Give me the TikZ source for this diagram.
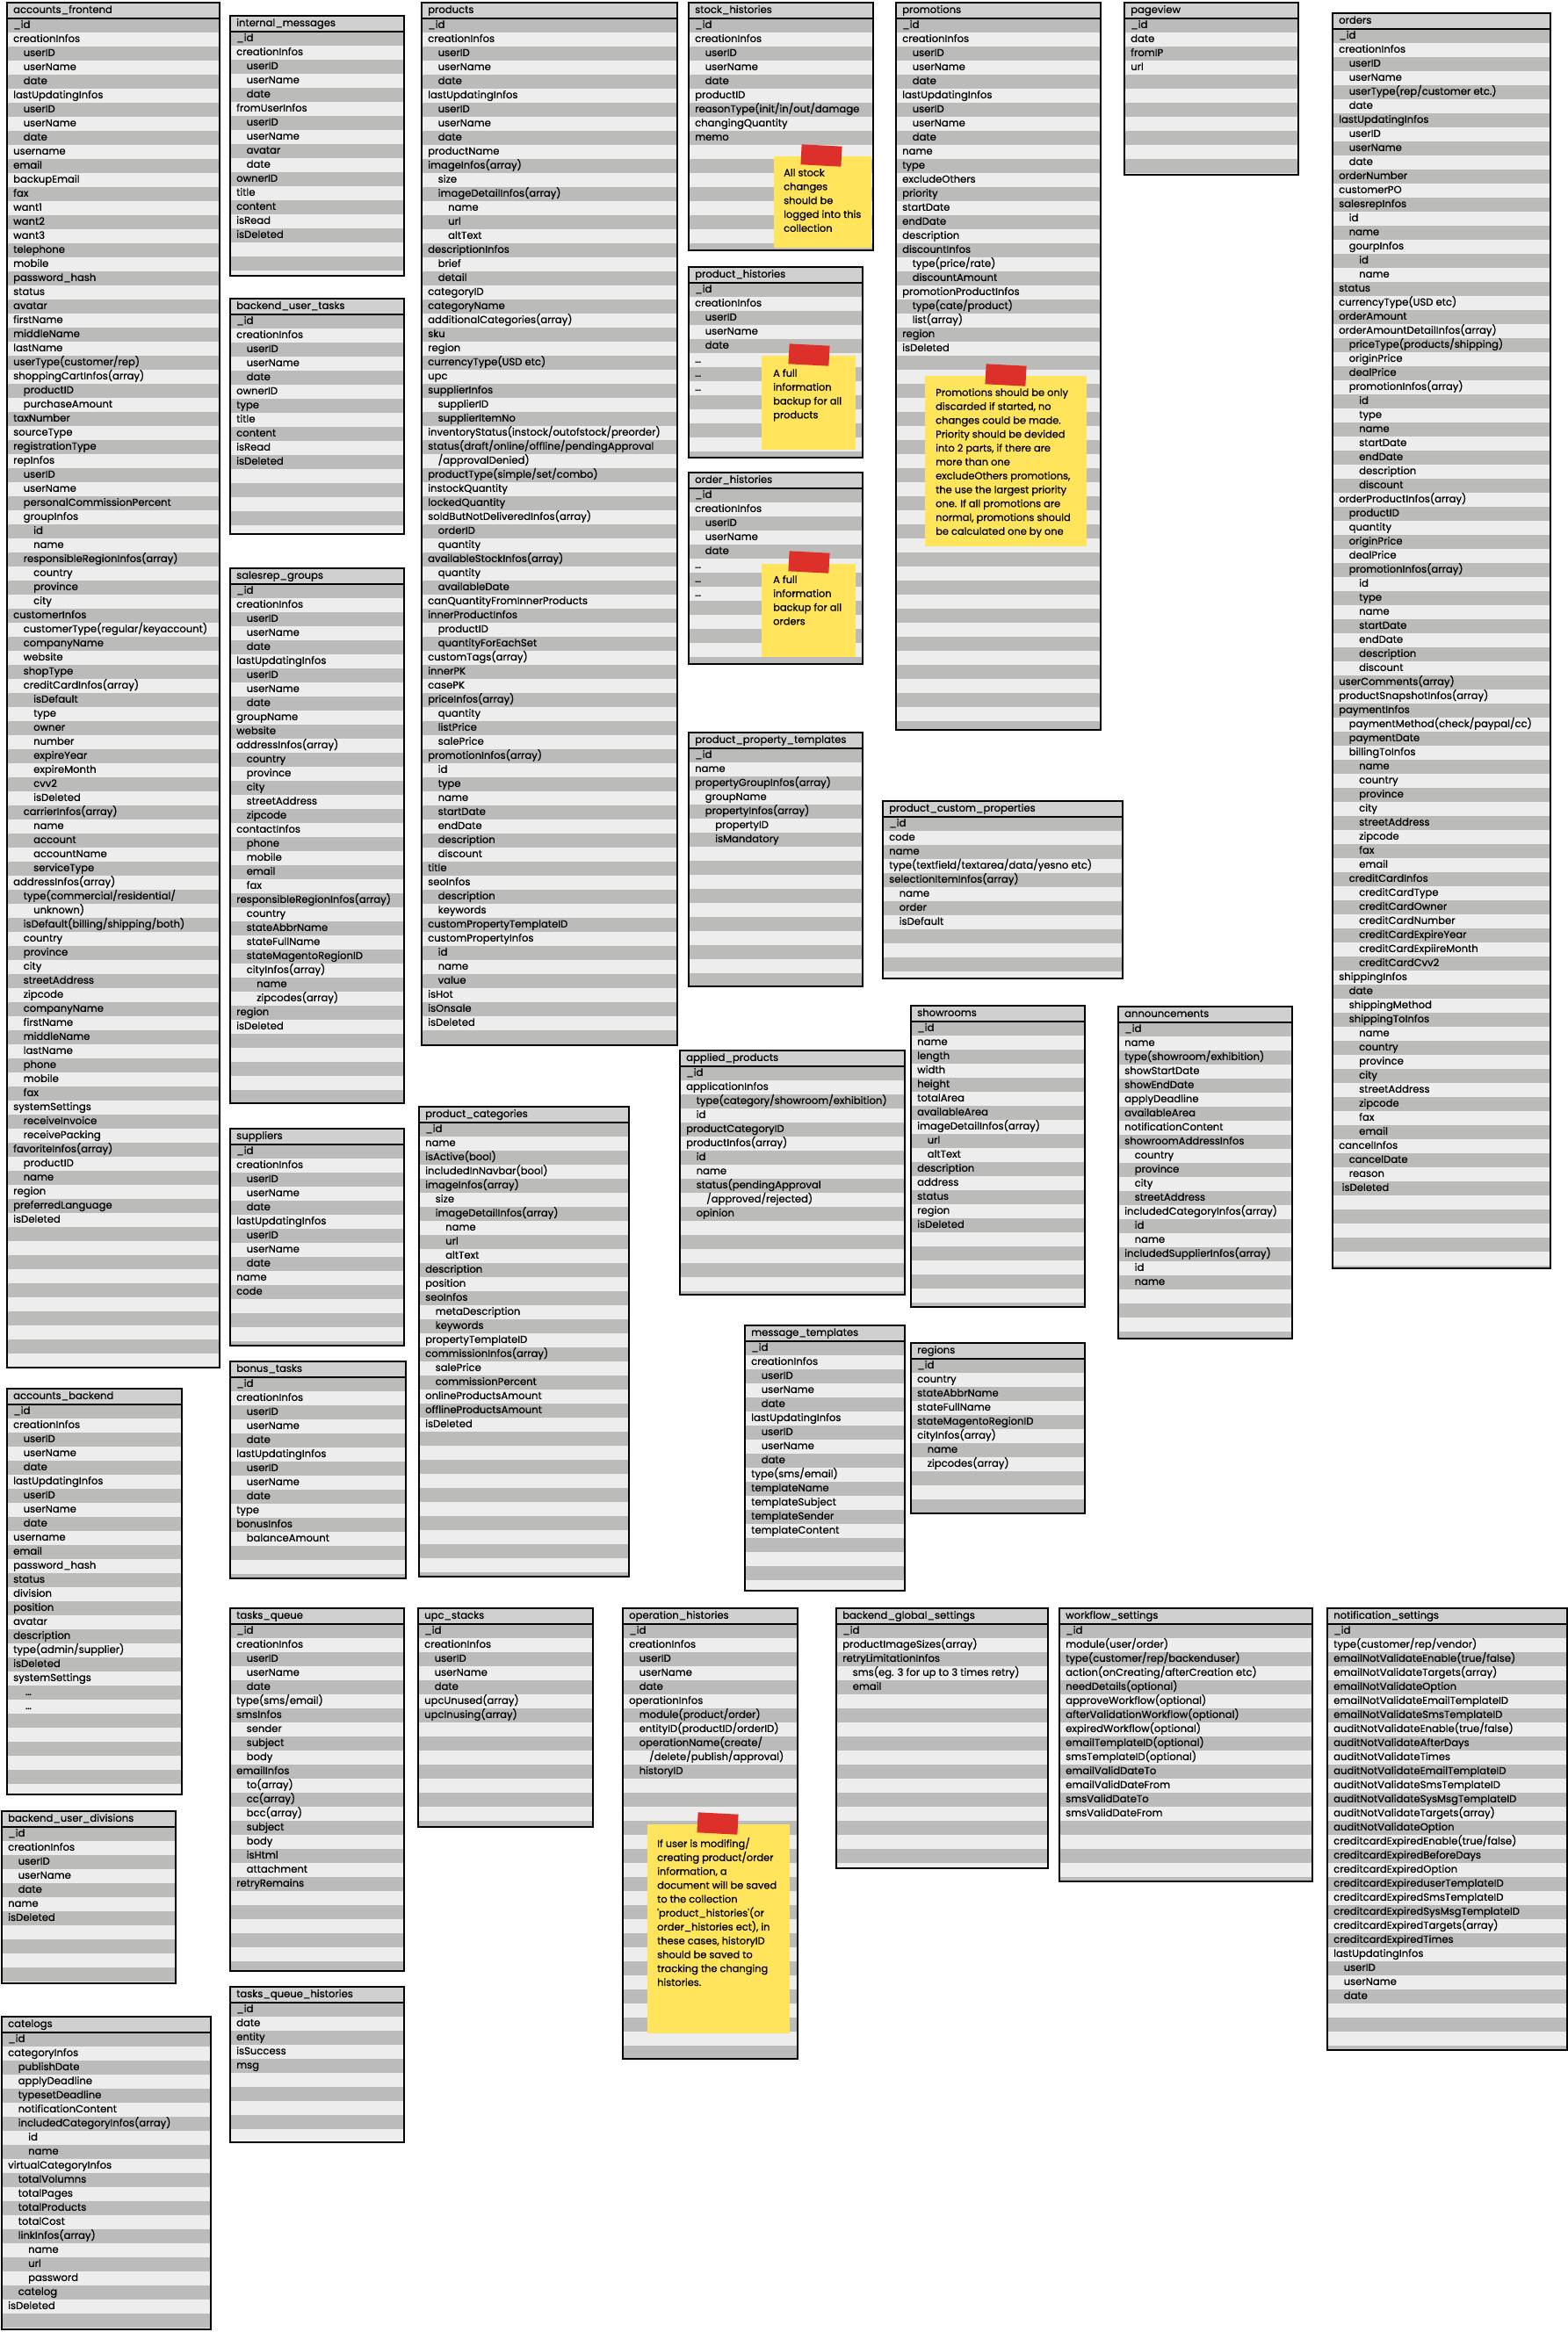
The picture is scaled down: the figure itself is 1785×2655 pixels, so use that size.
\documentclass[tikz,border=0pt]{standalone}
\usepackage{fontspec}
\setmainfont{Poppins}[FakeBold=0.7]
\definecolor{rowdark}{RGB}{187,188,185}
\definecolor{rowlight}{RGB}{237,237,237}
\definecolor{headfill}{RGB}{208,208,208}
\definecolor{noteyellow}{RGB}{255,228,92}
\definecolor{tapered}{RGB}{222,48,42}

\newcommand\dbtable[7]{%
  \begin{scope}
    \clip (#2,#3) rectangle (#4,#5);
    \fill[rowlight] (#2,#3) rectangle (#4,#5);
    \pgfmathtruncatemacro\nstripes{(#5-#3-18)/32}
    \foreach \k in {0,...,\nstripes}
      \fill[rowdark] (#2,{#3+18+32*\k}) rectangle (#4,{#3+34+32*\k});
  \end{scope}
  \fill[headfill] (#2,#3) rectangle (#4,{#3+18});
  \draw[headline] (#2,{#3+18}) -- (#4,{#3+18});
  \node[tablebox, minimum width={#4-#2}, minimum height={#5-#3}] (#1) at (#2,#3) {};
  \node[headtext] (#1-head) at ({#2+7},{#3+9}) {#6};
  \foreach \lvl/\txt [count=\i] in {#7}
    \node[fieldtext] (#1-\i) at ({#2+7+11.5*\lvl},{#3+10+16*\i}) {\txt};
}

\begin{document}
\begin{tikzpicture}[x=1pt,y=-1pt]
  \tikzset{
    tablebox/.style={
      draw=black,
      line width=2.4pt,
      inner sep=0pt,
      outer sep=0pt,
      anchor=north west
    },
    headline/.style={line width=1.8pt},
    headtext/.style={
      anchor=west,
      inner sep=0pt,
      text height=8pt,
      text depth=2.2pt,
      font=\fontsize{11.6}{14}\selectfont
    },
    fieldtext/.style={headtext},
    notebox/.style={
      fill=noteyellow,
      inner sep=0pt,
      anchor=north west
    },
    tape/.style={
      fill=tapered,
      inner sep=0pt,
      minimum width=46,
      minimum height=23,
      rotate=-3
    },
    notetext/.style={
      anchor=north west,
      inner sep=0pt,
      align=left,
      font=\fontsize{11.4}{15.8}\selectfont
    }
  }

  \useasboundingbox (0,0) rectangle (1785,2655);
  \fill[white] (0,0) rectangle (1785,2655);

  \dbtable{accfront}{8}{3}{250}{1557}{accounts\_frontend}{0/\_id, 0/creationInfos, 1/userID, 1/userName, 1/date, 0/lastUpdatingInfos, 1/userID, 1/userName, 1/date, 0/username, 0/email, 0/backupEmail, 0/fax, 0/want1, 0/want2, 0/want3, 0/telephone, 0/mobile, 0/password\_hash, 0/status, 0/avatar, 0/firstName, 0/middleName, 0/lastName, 0/{userType(customer/rep)}, 0/shoppingCartInfos(array), 1/productID, 1/purchaseAmount, 0/taxNumber, 0/sourceType, 0/registrationType, 0/repInfos, 1/userID, 1/userName, 1/personalCommissionPercent, 1/groupInfos, 2/id, 2/name, 1/responsibleRegionInfos(array), 2/country, 2/province, 2/city, 0/customerInfos, 1/{customerType(regular/keyaccount)}, 1/companyName, 1/website, 1/shopType, 1/creditCardInfos(array), 2/isDefault, 2/type, 2/owner, 2/number, 2/expireYear, 2/expireMonth, 2/cvv2, 2/isDeleted, 1/carrierInfos(array), 2/name, 2/account, 2/accountName, 2/serviceType, 0/addressInfos(array), 1/{type(commercial/residential/}, 2/unknown), 1/{isDefault(billing/shipping/both)}, 1/country, 1/province, 1/city, 1/streetAddress, 1/zipcode, 1/companyName, 1/firstName, 1/middleName, 1/lastName, 1/phone, 1/mobile, 1/fax, 0/systemSettings, 1/receiveInvoice, 1/receivePacking, 0/favoriteInfos(array), 1/productID, 1/name, 0/region, 0/preferredLanguage, 0/isDeleted}

  \dbtable{intmsg}{262}{18}{460}{314}{internal\_messages}{0/\_id, 0/creationInfos, 1/userID, 1/userName, 1/date, 0/fromUserInfos, 1/userID, 1/userName, 1/avatar, 1/date, 0/ownerID, 0/title, 0/content, 0/isRead, 0/isDeleted}

  \dbtable{butasks}{262}{340}{460}{608}{backend\_user\_tasks}{0/\_id, 0/creationInfos, 1/userID, 1/userName, 1/date, 0/ownerID, 0/type, 0/title, 0/content, 0/isRead, 0/isDeleted}

  \dbtable{srgroups}{262}{647}{460}{1256}{salesrep\_groups}{0/\_id, 0/creationInfos, 1/userID, 1/userName, 1/date, 0/lastUpdatingInfos, 1/userID, 1/userName, 1/date, 0/groupName, 0/website, 0/addressInfos(array), 1/country, 1/province, 1/city, 1/streetAddress, 1/zipcode, 0/contactInfos, 1/phone, 1/mobile, 1/email, 1/fax, 0/responsibleRegionInfos(array), 1/country, 1/stateAbbrName, 1/stateFullName, 1/stateMagentoRegionID, 1/cityInfos(array), 2/name, 2/zipcodes(array), 0/region, 0/isDeleted}

  \dbtable{products}{480}{3}{771}{1190}{products}{0/\_id, 0/creationInfos, 1/userID, 1/userName, 1/date, 0/lastUpdatingInfos, 1/userID, 1/userName, 1/date, 0/productName, 0/imageInfos(array), 1/size, 1/imageDetailInfos(array), 2/name, 2/url, 2/altText, 0/descriptionInfos, 1/brief, 1/detail, 0/categoryID, 0/categoryName, 0/additionalCategories(array), 0/sku, 0/region, 0/currencyType(USD etc), 0/upc, 0/supplierInfos, 1/supplierID, 1/supplierItemNo, 0/{inventoryStatus(instock/outofstock/preorder)}, 0/{status(draft/online/offline/pendingApproval}, 1/{/approvalDenied)}, 0/{productType(simple/set/combo)}, 0/instockQuantity, 0/lockedQuantity, 0/soldButNotDeliveredInfos(array), 1/orderID, 1/quantity, 0/availableStockInfos(array), 1/quantity, 1/availableDate, 0/canQuantityFromInnerProducts, 0/innerProductInfos, 1/productID, 1/quantityForEachSet, 0/customTags(array), 0/innerPK, 0/casePK, 0/priceInfos(array), 1/quantity, 1/listPrice, 1/salePrice, 0/promotionInfos(array), 1/id, 1/type, 1/name, 1/startDate, 1/endDate, 1/description, 1/discount, 0/title, 0/seoInfos, 1/description, 1/keywords, 0/customPropertyTemplateID, 0/customPropertyInfos, 1/id, 1/name, 1/value, 0/isHot, 0/isOnsale, 0/isDeleted}

  \dbtable{stockhist}{784}{3}{994}{285}{stock\_histories}{0/\_id, 0/creationInfos, 1/userID, 1/userName, 1/date, 0/productID, 0/{reasonType(init/in/out/damage}, 0/changingQuantity, 0/memo}

  \dbtable{prodhist}{784}{304}{982}{521}{product\_histories}{0/\_id, 0/creationInfos, 1/userID, 1/userName, 1/date, 0/\dots, 0/\dots, 0/\dots}

  \dbtable{orderhist}{784}{538}{982}{756}{order\_histories}{0/\_id, 0/creationInfos, 1/userID, 1/userName, 1/date, 0/\dots, 0/\dots, 0/\dots}

  \dbtable{promotions}{1020}{3}{1253}{831}{promotions}{0/\_id, 0/creationInfos, 1/userID, 1/userName, 1/date, 0/lastUpdatingInfos, 1/userID, 1/userName, 1/date, 0/name, 0/type, 0/excludeOthers, 0/priority, 0/startDate, 0/endDate, 0/description, 0/discountInfos, 1/{type(price/rate)}, 1/discountAmount, 0/promotionProductInfos, 1/{type(cate/product)}, 1/list(array), 0/region, 0/isDeleted}

  \dbtable{pptemplates}{784}{834}{982}{1123}{product\_property\_templates}{0/\_id, 0/name, 0/propertyGroupInfos(array), 1/groupName, 1/propertyInfos(array), 2/propertyID, 2/isMandatory}

  \dbtable{pageview}{1280}{3}{1478}{199}{pageview}{0/\_id, 0/date, 0/fromIP, 0/url}

  \dbtable{orders}{1517}{15}{1765}{1444}{orders}{0/\_id, 0/creationInfos, 1/userID, 1/userName, 1/{userType(rep/customer etc.)}, 1/date, 0/lastUpdatingInfos, 1/userID, 1/userName, 1/date, 0/orderNumber, 0/customerPO, 0/salesrepInfos, 1/id, 1/name, 1/gourpInfos, 2/id, 2/name, 0/status, 0/currencyType(USD etc), 0/orderAmount, 0/orderAmountDetailInfos(array), 1/{priceType(products/shipping)}, 1/originPrice, 1/dealPrice, 1/promotionInfos(array), 2/id, 2/type, 2/name, 2/startDate, 2/endDate, 2/description, 2/discount, 0/orderProductInfos(array), 1/productID, 1/quantity, 1/originPrice, 1/dealPrice, 1/promotionInfos(array), 2/id, 2/type, 2/name, 2/startDate, 2/endDate, 2/description, 2/discount, 0/userComments(array), 0/productSnapshotInfos(array), 0/paymentInfos, 1/{paymentMethod(check/paypal/cc)}, 1/paymentDate, 1/billingToInfos, 2/name, 2/country, 2/province, 2/city, 2/streetAddress, 2/zipcode, 2/fax, 2/email, 1/creditCardInfos, 2/creditCardType, 2/creditCardOwner, 2/creditCardNumber, 2/creditCardExpireYear, 2/creditCardExpiireMonth, 2/creditCardCvv2, 0/shippingInfos, 1/date, 1/shippingMethod, 1/shippingToInfos, 2/name, 2/country, 2/province, 2/city, 2/streetAddress, 2/zipcode, 2/fax, 2/email, 0/cancelInfos, 1/cancelDate, 1/reason, 0.3/isDeleted}

  \dbtable{suppliers}{262}{1285}{460}{1532}{suppliers}{0/\_id, 0/creationInfos, 1/userID, 1/userName, 1/date, 0/lastUpdatingInfos, 1/userID, 1/userName, 1/date, 0/name, 0/code}

  \dbtable{bonustasks}{262}{1550}{462}{1797}{bonus\_tasks}{0/\_id, 0/creationInfos, 1/userID, 1/userName, 1/date, 0/lastUpdatingInfos, 1/userID, 1/userName, 1/date, 0/type, 0/bonusInfos, 1/balanceAmount}

  \dbtable{prodcats}{477}{1260}{716}{1795}{product\_categories}{0/\_id, 0/name, 0/isActive(bool), 0/includedInNavbar(bool), 0/imageInfos(array), 1/size, 1/imageDetailInfos(array), 2/name, 2/url, 2/altText, 0/description, 0/position, 0/seoInfos, 1/metaDescription, 1/keywords, 0/propertyTemplateID, 0/commissionInfos(array), 1/salePrice, 1/commissionPercent, 0/onlineProductsAmount, 0/offlineProductsAmount, 0/isDeleted}

  \dbtable{accback}{8}{1581}{207}{2043}{accounts\_backend}{0/\_id, 0/creationInfos, 1/userID, 1/userName, 1/date, 0/lastUpdatingInfos, 1/userID, 1/userName, 1/date, 0/username, 0/email, 0/password\_hash, 0/status, 0/division, 0/position, 0/avatar, 0/description, 0/{type(admin/supplier)}, 0/isDeleted, 0/systemSettings, 1.2/\dots, 1.2/\dots}

  \dbtable{pcprops}{1005}{912}{1278}{1114}{product\_custom\_properties}{0/\_id, 0/code, 0/name, 0/{type(textfield/textarea/data/yesno etc)}, 0/selectionItemInfos(array), 1/name, 1/order, 1/isDefault}

  \dbtable{appliedprod}{774}{1196}{1030}{1474}{applied\_products}{0/\_id, 0/applicationInfos, 1/{type(category/showroom/exhibition)}, 1/id, 0/productCategoryID, 0/productInfos(array), 1/id, 1/name, 1/{status(pendingApproval}, 2/{/approved/rejected)}, 1/opinion}

  \dbtable{showrooms}{1037}{1145}{1235}{1488}{showrooms}{0/\_id, 0/name, 0/length, 0/width, 0/height, 0/totalArea, 0/availableArea, 0/imageDetailInfos(array), 1/url, 1/altText, 0/description, 0/address, 0/status, 0/region, 0/isDeleted}

  \dbtable{msgtemplates}{848}{1509}{1030}{1811}{message\_templates}{0/\_id, 0/creationInfos, 1/userID, 1/userName, 1/date, 0/lastUpdatingInfos, 1/userID, 1/userName, 1/date, 0/{type(sms/email)}, 0/templateName, 0/templateSubject, 0/templateSender, 0/templateContent}

  \dbtable{regions}{1037}{1529}{1235}{1723}{regions}{0/\_id, 0/country, 0/stateAbbrName, 0/stateFullName, 0/stateMagentoRegionID, 0/cityInfos(array), 1/name, 1/zipcodes(array)}

  \dbtable{announce}{1273}{1146}{1471}{1524}{announcements}{0/\_id, 0/name, 0/{type(showroom/exhibition)}, 0/showStartDate, 0/showEndDate, 0/applyDeadline, 0/availableArea, 0/notificationContent, 0/showroomAddressInfos, 1/country, 1/province, 1/city, 1/streetAddress, 0/includedCategoryInfos(array), 1/id, 1/name, 0/includedSupplierInfos(array), 1/id, 1/name}

  \dbtable{budivisions}{2}{2062}{200}{2258}{backend\_user\_divisions}{0/\_id, 0/creationInfos, 1/userID, 1/userName, 1/date, 0/name, 0/isDeleted}

  \dbtable{catelogs}{2}{2296}{240}{2652}{catelogs}{0/\_id, 0/categoryInfos, 1/publishDate, 1/applyDeadline, 1/typesetDeadline, 1/notificationContent, 1/includedCategoryInfos(array), 2/id, 2/name, 0/virtualCategoryInfos, 1/totalVolumns, 1/totalPages, 1/totalProducts, 1/totalCost, 1/linkInfos(array), 2/name, 2/url, 2/password, 1/catelog, 0/isDeleted}

  \dbtable{tasksqueue}{262}{1831}{460}{2244}{tasks\_queue}{0/\_id, 0/creationInfos, 1/userID, 1/userName, 1/date, 0/{type(sms/email)}, 0/smsInfos, 1/sender, 1/subject, 1/body, 0/emailInfos, 1/to(array), 1/cc(array), 1/bcc(array), 1/subject, 1/body, 1/isHtml, 1/attachment, 0/retryRemains}

  \dbtable{tqhist}{262}{2262}{460}{2439}{tasks\_queue\_histories}{0/\_id, 0/date, 0/entity, 0/isSuccess, 0/msg}

  \dbtable{upcstacks}{476}{1831}{675}{2080}{upc\_stacks}{0/\_id, 0/creationInfos, 1/userID, 1/userName, 1/date, 0/upcUnused(array), 0/upcInusing(array)}

  \dbtable{ophist}{709}{1831}{908}{2344}{operation\_histories}{0/\_id, 0/creationInfos, 1/userID, 1/userName, 1/date, 0/operationInfos, 1/{module(product/order)}, 1/{entityID(productID/orderID)}, 1/{operationName(create/}, 2/{/delete/publish/approval)}, 1/historyID}

  \dbtable{bgsettings}{952}{1831}{1193}{2127}{backend\_global\_settings}{0/\_id, 0/productImageSizes(array), 0/retryLimitationInfos, 1/sms(eg. 3 for up to 3 times retry), 1/email}

  \dbtable{wfsettings}{1206}{1831}{1494}{2142}{workflow\_settings}{0/\_id, 0/{module(user/order)}, 0/{type(customer/rep/backenduser)}, 0/{action(onCreating/afterCreation etc)}, 0/needDetails(optional), 0/approveWorkflow(optional), 0/afterValidationWorkflow(optional), 0/expiredWorkflow(optional), 0/emailTemplateID(optional), 0/smsTemplateID(optional), 0/emailValidDateTo, 0/emailValidDateFrom, 0/smsValidDateTo, 0/smsValidDateFrom}

  \dbtable{notifsettings}{1511}{1831}{1784}{2334}{notification\_settings}{0/\_id, 0/{type(customer/rep/vendor)}, 0/{emailNotValidateEnable(true/false)}, 0/emailNotValidateTargets(array), 0/emailNotValidateOption, 0/emailNotValidateEmailTemplateID, 0/emailNotValidateSmsTemplateID, 0/{auditNotValidateEnable(true/false)}, 0/auditNotValidateAfterDays, 0/auditNotValidateTimes, 0/auditNotValidateEmailTemplateID, 0/auditNotValidateSmsTemplateID, 0/auditNotValidateSysMsgTemplateID, 0/auditNotValidateTargets(array), 0/auditNotValidateOption, 0/{creditcardExpiredEnable(true/false)}, 0/creditcardExpiredBeforeDays, 0/creditcardExpiredOption, 0/creditcardExpireduserTemplateID, 0/creditcardExpiredSmsTemplateID, 0/creditcardExpiredSysMsgTemplateID, 0/creditcardExpiredTargets(array), 0/creditcardExpiredTimes, 0/lastUpdatingInfos, 1/userID, 1/userName, 1/date}

  \node[notebox, minimum width=111, minimum height=104] (stocknote) at (881,178) {};
  \node[tape] (stocktape) at (935,177) {};
  \node[notetext] (stocktext) at (892,192) {All stock\\changes\\should be\\logged into this\\collection};

  \node[notebox, minimum width=107, minimum height=107] (prodnote) at (867,405) {};
  \node[tape] (prodtape) at (921,404) {};
  \node[notetext] (prodtext) at (880,420) {A full\\information\\backup for all\\products};

  \node[notebox, minimum width=107, minimum height=106] (ordernote) at (867,642) {};
  \node[tape] (ordertape) at (921,640) {};
  \node[notetext] (ordertext) at (880,655) {A full\\information\\backup for all\\orders};

  \node[notebox, minimum width=184, minimum height=194] (promonote) at (1053,428) {};
  \node[tape] (promotape) at (1145,427) {};
  \node[notetext] (promotext) at (1065,442) {Promotions should be only\\discarded if started, no\\changes could be made.\\Priority should be devided\\into 2 parts, if there are\\more than one\\excludeOthers promotions,\\the use the largest priority\\one. If all promotions are\\normal, promotions should\\be calculated one by one};

  \node[notebox, minimum width=162, minimum height=238] (opnote) at (737,2077) {};
  \node[tape] (optape) at (817,2076) {};
  \node[notetext] (optext) at (748,2092) {If user is modifing/\\creating product/order\\information, a\\document will be saved\\to the collection\\\textquotesingle product\_histories\textquotesingle(or\\order\_histories ect), in\\these cases, historyID\\should be saved to\\tracking the changing\\histories.};
\end{tikzpicture}
\end{document}
